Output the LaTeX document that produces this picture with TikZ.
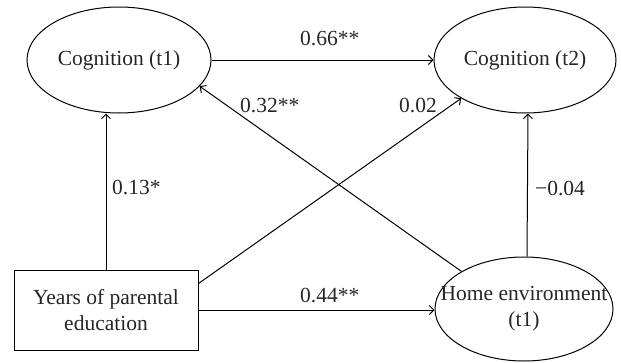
\documentclass[tikz,border=0pt]{standalone}
\usepackage{fontspec}
\setmainfont{Liberation Serif}
\usetikzlibrary{shapes.geometric,arrows.meta}
\begin{document}
\begin{tikzpicture}[x=1pt,y=-1pt,
  every node/.style={font=\fontsize{21.5}{26}\selectfont, text=black!85},
  latent/.style={draw=black, line width=1pt, ellipse, inner sep=0pt},
  observed/.style={draw=black, line width=1pt, rectangle, inner sep=0pt,
    minimum width=184pt, minimum height=80pt, align=center},
  path/.style={draw=black, line width=1pt, -{Straight Barb[length=4.5pt,width=9pt]}},
  coef/.style={inner sep=0pt, anchor=west}]
  \useasboundingbox (0,0) rectangle (621,362);

  % constructs
  \node[latent, minimum width=184pt, minimum height=106pt,
        label=center:{Cognition (t1)}] (cog1) at (119,60) {};
  \node[latent, minimum width=182pt, minimum height=106pt,
        label=center:{Cognition (t2)}] (cog2) at (525,60) {};
  \node[latent, minimum width=178pt, minimum height=104pt,
        label={[align=center]center:{Home environment\\(t1)}}] (home) at (524,309) {};
  \node[observed] (edu) at (106,310) {Years of parental\\education};

  % paths
  \draw[path] (cog1.east) -- (cog2.west);
  \draw[path] (edu.north) -- (edu.north |- cog1.south);
  \draw[path] (edu.16) -- (cog2.211);
  \draw[path] (home.149) -- (cog1.342);
  \draw[path] (edu.east) -- (edu.east -| home.west);
  \draw[path] ([xshift=3pt]home.north) -- ([xshift=3pt]cog2.south);

  % path coefficients
  \node[coef] at (300,39) {0.66**};
  \node[coef] at (240,105) {0.32**};
  \node[coef] at (399,105) {0.02};
  \node[coef] at (112,187) {0.13*};
  \node[coef] at (535,188) {−0.04};
  \node[coef] at (300,295) {0.44**};
\end{tikzpicture}
\end{document}
